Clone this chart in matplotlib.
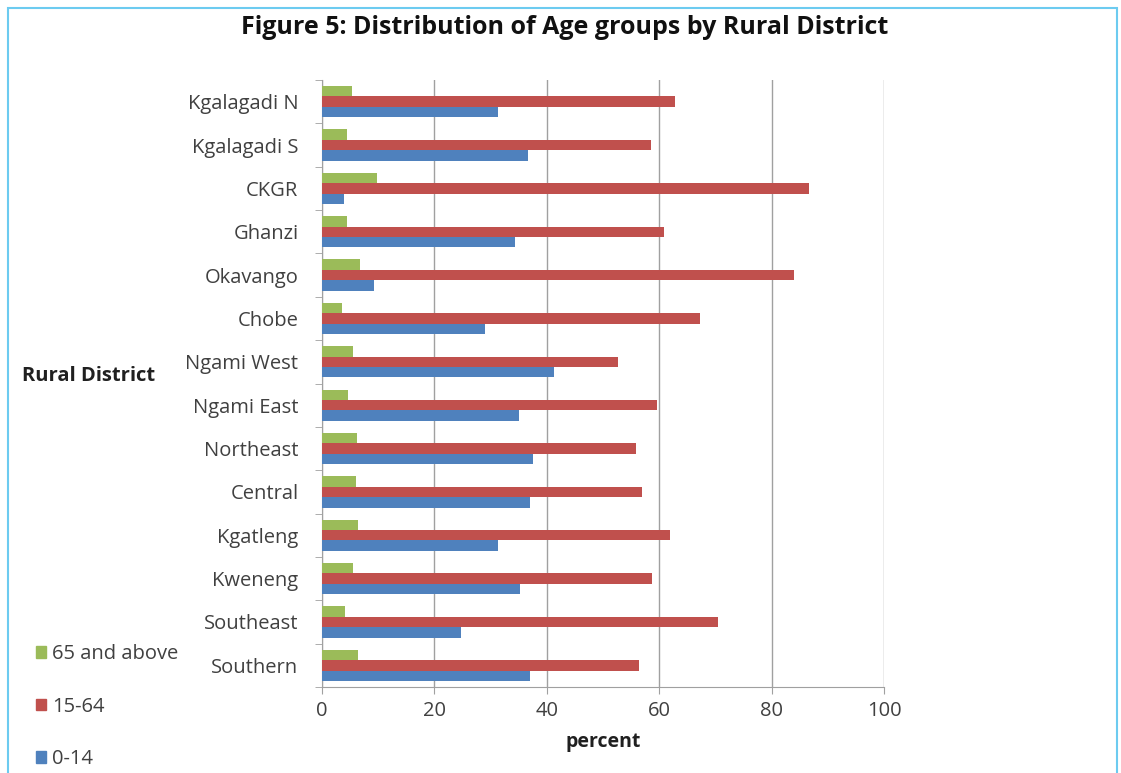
import numpy as np
import matplotlib
matplotlib.use("Agg")
import matplotlib.pyplot as plt
from matplotlib.patches import Patch, Rectangle

# district order from bottom to top of the chart
districts = ["Southern", "Southeast", "Kweneng", "Kgatleng", "Central", "Northeast",
             "Ngami East", "Ngami West", "Chobe", "Okavango", "Ghanzi", "CKGR",
             "Kgalagadi S", "Kgalagadi N"]
age_0_14 = [37.0, 24.8, 35.2, 31.4, 37.0, 37.5, 35.1, 41.2, 29.0, 9.2, 34.3, 4.0, 36.6, 31.4]
age_15_64 = [56.4, 70.5, 58.7, 62.0, 56.9, 55.9, 59.6, 52.6, 67.2, 84.0, 60.9, 86.6, 58.6, 62.8]
age_65_up = [6.4, 4.1, 5.6, 6.4, 6.0, 6.2, 4.7, 5.6, 3.5, 6.7, 4.5, 9.7, 4.5, 5.4]
x_ticks = [0, 20, 40, 60, 80, 100]

blue = "#4f81bd"
red = "#c0504d"
green = "#9bbb59"
text_col = "#404040"

plt.rcParams["font.family"] = ["Open Sans", "DejaVu Sans"]

W, H = 1121, 773
fig = plt.figure(figsize=(W / 100, H / 100), dpi=100)
ax = fig.add_axes([322 / W, 1 - 687 / H, (884 - 322) / W, (687 - 80) / H])

y = np.arange(len(districts))
h = 0.24
ax.barh(y - h, age_0_14, height=h, color=blue, zorder=3)
ax.barh(y, age_15_64, height=h, color=red, zorder=3)
ax.barh(y + h, age_65_up, height=h, color=green, zorder=3)

ax.set_xlim(0, 100)
ax.set_ylim(-0.5, len(districts) - 0.5)
ax.set_xticks(x_ticks)
ax.set_xticklabels([str(t) for t in x_ticks], fontsize=14.5, color=text_col)
ax.set_yticks(y)
ax.set_yticklabels(districts, fontsize=14.5, color=text_col)
ax.set_yticks(np.arange(-0.5, len(districts), 1), minor=True)
ax.tick_params(axis="y", which="major", length=0, pad=17)
ax.tick_params(axis="y", which="minor", length=5, color="#a0a0a0", direction="out")
ax.tick_params(axis="x", length=5, color="#a0a0a0", pad=5)

ax.grid(axis="x", color="#a0a0a0", linewidth=1.0, zorder=0)
for s in ["top", "right"]:
    ax.spines[s].set_visible(False)
for s in ["left", "bottom"]:
    ax.spines[s].set_color("#a0a0a0")

ax.set_xlabel("percent", fontsize=14, fontweight="bold", color="#202020", labelpad=8)

fig.text(565 / W, 1 - 28 / H, "Figure 5: Distribution of Age groups by Rural District",
         fontsize=18, fontweight="bold", ha="center", va="center", color="#111111")
fig.text(22 / W, 1 - 376 / H, "Rural District", fontsize=14.5, fontweight="bold",
         ha="left", va="center", color="#202020")

handles = [Patch(color=green), Patch(color=red), Patch(color=blue)]
labels = ["65 and above", "15-64", "0-14"]
fig.legend(handles, labels, loc="upper left", bbox_to_anchor=(18 / W, 1 - 626 / H),
           frameon=False, fontsize=14.5, handlelength=0.5, handleheight=0.5,
           handletextpad=0.3, labelspacing=1.62, labelcolor=text_col)

# light blue frame around the figure
fig.add_artist(Rectangle((8 / W, -0.01), (1117 - 8) / W, 1 - 8 / H + 0.01,
                         transform=fig.transFigure, fill=False,
                         edgecolor="#6ccbf0", linewidth=1.5))

fig.savefig("out.png", dpi=100)
